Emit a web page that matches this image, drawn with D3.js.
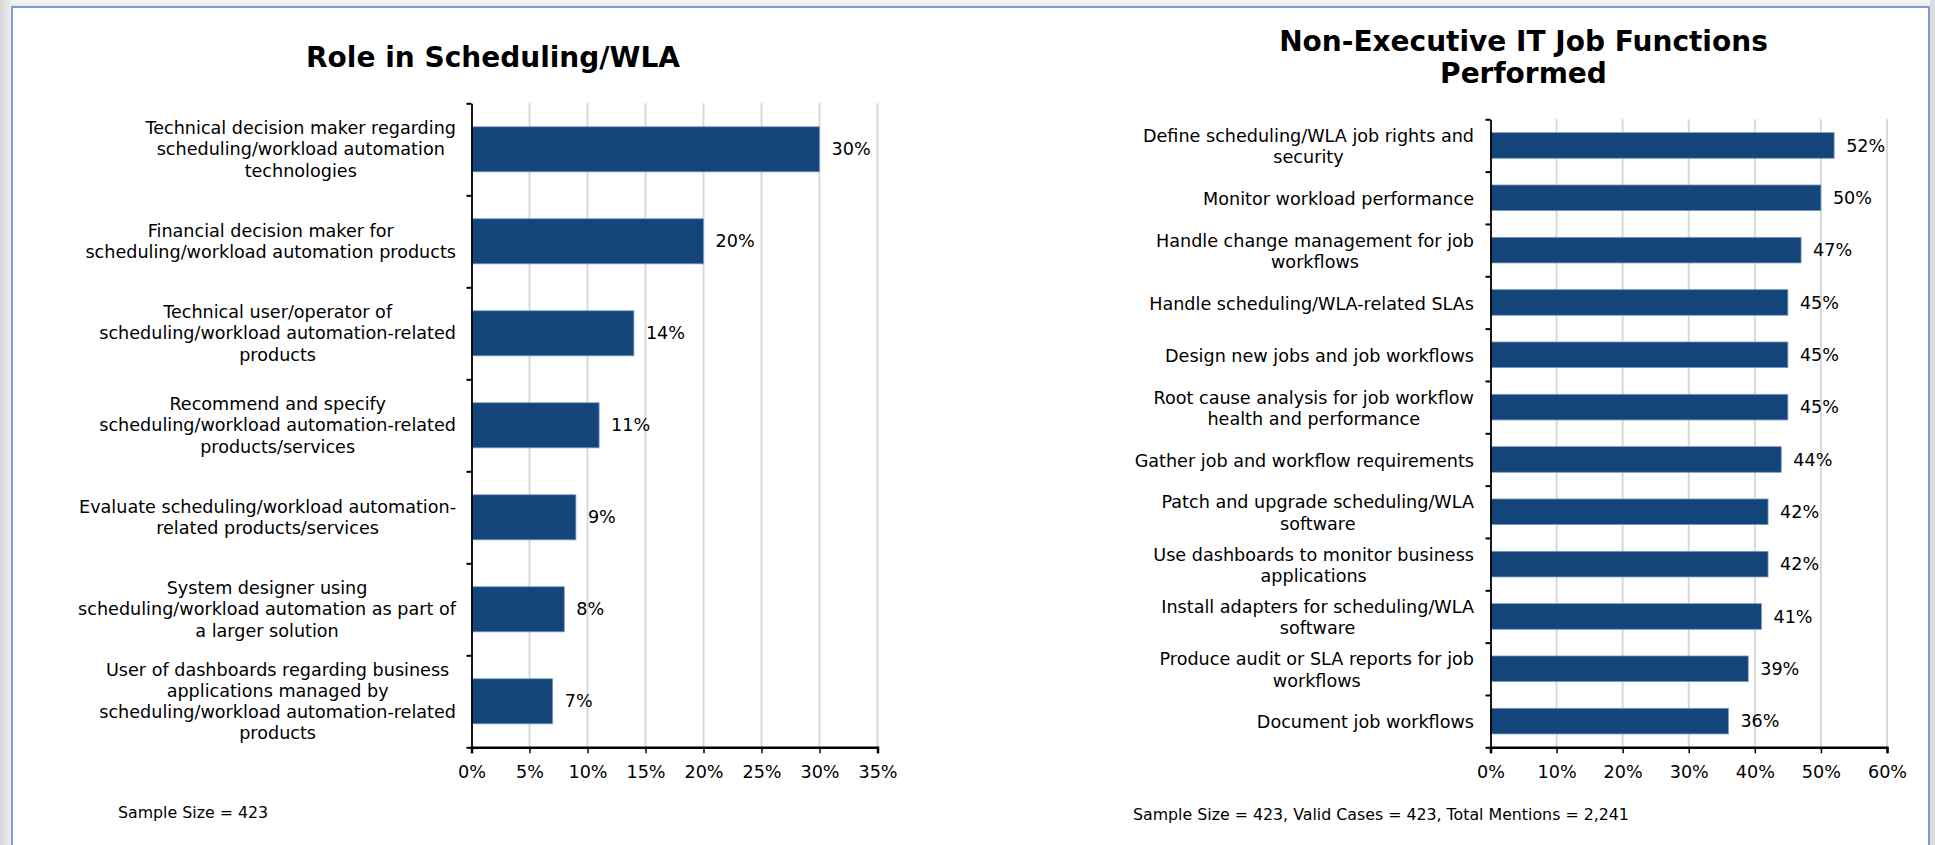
<!DOCTYPE html>
<html>
<head>
<meta charset="utf-8">
<script src="https://cdn.jsdelivr.net/npm/d3@7"></script>
<style>
  body { margin: 0; background: #ffffff; }
  text { font-family: "DejaVu Sans", Verdana, sans-serif; fill: #000; }
</style>
</head>
<body>
<div id="page"></div>
<script>
// ---- data ----
var roleLabels = [
  "Technical decision maker regarding\nscheduling/workload automation\ntechnologies",
  "Financial decision maker for\nscheduling/workload automation products",
  "Technical user/operator of\nscheduling/workload automation-related\nproducts",
  "Recommend and specify\nscheduling/workload automation-related\nproducts/services",
  "Evaluate scheduling/workload automation-\nrelated products/services",
  "System designer using\nscheduling/workload automation as part of\na larger solution",
  "User of dashboards regarding business\napplications managed by\nscheduling/workload automation-related\nproducts"
];
var roleValues = [30, 20, 14, 11, 9, 8, 7];
var roleTicks = [0, 5, 10, 15, 20, 25, 30, 35];

var jobLabels = [
  "Define scheduling/WLA job rights and\nsecurity",
  "Monitor workload performance",
  "Handle change management for job\nworkflows",
  "Handle scheduling/WLA-related SLAs",
  "Design new jobs and job workflows",
  "Root cause analysis for job workflow\nhealth and performance",
  "Gather job and workflow requirements",
  "Patch and upgrade scheduling/WLA\nsoftware",
  "Use dashboards to monitor business\napplications",
  "Install adapters for scheduling/WLA\nsoftware",
  "Produce audit or SLA reports for job\nworkflows",
  "Document job workflows"
];
var jobValues = [52, 50, 47, 45, 45, 45, 44, 42, 42, 41, 39, 36];
var jobTicks = [0, 10, 20, 30, 40, 50, 60];

var barColor = "#13457a";
var textSize = 17.6;

var svgWidth = 1935, svgHeight = 845;

var svg = d3.select("#page")
  .append("svg")
  .attr("width", svgWidth)
  .attr("height", svgHeight);

// window chrome: grey shadow round a blue-edged white sheet
var defs = svg.append("defs");
var gl = defs.append("linearGradient").attr("id", "shadeLeft");
gl.append("stop").attr("offset", "0").attr("stop-color", "#d4d4d4");
gl.append("stop").attr("offset", "1").attr("stop-color", "#efefef");
var gt = defs.append("linearGradient").attr("id", "shadeTop")
  .attr("x1", 0).attr("y1", 0).attr("x2", 0).attr("y2", 1);
gt.append("stop").attr("offset", "0").attr("stop-color", "#f6f6f6");
gt.append("stop").attr("offset", "1").attr("stop-color", "#e6e6e6");

svg.append("rect").attr("x", 0).attr("y", 0).attr("width", svgWidth).attr("height", 7)
  .attr("fill", "url(#shadeTop)");
svg.append("rect").attr("x", 0).attr("y", 0).attr("width", 11).attr("height", svgHeight)
  .attr("fill", "url(#shadeLeft)");
svg.append("rect").attr("x", 1930).attr("y", 0).attr("width", 5).attr("height", svgHeight)
  .attr("fill", "#dcdcdc");
svg.append("path")
  .attr("d", "M12,845 V7 H1929 V845")
  .attr("fill", "#ffffff")
  .attr("stroke", "#7f98d6")
  .attr("stroke-width", 2);

// draws one horizontal bar chart
function drawChart(opt) {
  var g = svg.append("g");

  var x = d3.scaleLinear()
    .domain([0, d3.max(opt.ticks)])
    .range([opt.left, opt.right]);

  var y = d3.scaleBand()
    .domain(d3.range(opt.labels.length))
    .range([opt.top, opt.bottom])
    .paddingInner(0.51)
    .paddingOuter(0.255);

  // gridlines
  g.append("g")
    .selectAll("line")
    .data(opt.ticks.slice(1))
    .enter()
    .append("line")
    .attr("x1", d => x(d)).attr("x2", d => x(d))
    .attr("y1", opt.top).attr("y2", opt.bottom)
    .attr("stroke", "#d9d9d9")
    .attr("stroke-width", 2);

  // bars
  g.append("g")
    .selectAll("rect")
    .data(opt.values)
    .enter()
    .append("rect")
    .attr("x", x(0))
    .attr("y", (d, i) => y(i))
    .attr("width", d => x(d) - x(0))
    .attr("height", y.bandwidth())
    .attr("fill", barColor)
    .attr("stroke", "#7d9cc4")
    .attr("stroke-width", 0.8);

  // value labels
  g.append("g")
    .selectAll("text")
    .data(opt.values)
    .enter()
    .append("text")
    .attr("x", d => x(d) + 12)
    .attr("y", (d, i) => y(i) + y.bandwidth() / 2)
    .attr("dy", "0.35em")
    .style("font-size", textSize + "px")
    .text(d => d + "%");

  // bottom axis
  var bottomAxis = d3.axisBottom(x)
    .tickValues(opt.ticks)
    .tickSize(6)
    .tickPadding(12)
    .tickFormat(d => d + "%");
  var xAxis = g.append("g")
    .attr("transform", `translate(0, ${opt.bottom})`)
    .call(bottomAxis);
  xAxis.select(".domain").attr("stroke", "#000").attr("stroke-width", 2.5);
  xAxis.selectAll(".tick line").attr("stroke", "#000").attr("stroke-width", 1.5);
  xAxis.selectAll("text")
    .style("font-size", textSize + "px")
    .style("font-family", "DejaVu Sans, Verdana, sans-serif");

  // left axis, with marks between the categories
  var n = opt.labels.length;
  var yEdge = d3.scaleLinear().domain([0, n]).range([opt.top, opt.bottom]);
  var leftAxis = d3.axisLeft(yEdge)
    .tickValues(d3.range(n + 1))
    .tickSize(5)
    .tickSizeOuter(0)
    .tickFormat("");
  var yAxis = g.append("g")
    .attr("transform", `translate(${opt.left}, 0)`)
    .call(leftAxis);
  yAxis.select(".domain").attr("stroke", "#000").attr("stroke-width", 1.8);
  yAxis.selectAll(".tick line").attr("stroke", "#000").attr("stroke-width", 2);

  // category labels: each block centred, block right edge set against the axis
  var labelGroup = g.append("g");
  opt.labels.forEach(function(label, i) {
    var lines = label.split("\n");
    var t = labelGroup.append("text")
      .attr("text-anchor", "middle")
      .style("font-size", textSize + "px");
    var lineH = 21.3;
    var cy = y(i) + y.bandwidth() / 2 + opt.labelShift;
    lines.forEach(function(line, k) {
      t.append("tspan")
        .attr("y", cy + (k - (lines.length - 1) / 2) * lineH)
        .attr("dy", "0.35em")
        .text(line);
    });
    var w = 0;
    t.selectAll("tspan").each(function() {
      w = Math.max(w, this.getComputedTextLength());
    });
    t.selectAll("tspan").attr("x", opt.labelRight - w / 2);
  });

  // title
  var title = g.append("text")
    .attr("text-anchor", "middle")
    .style("font-size", "28px")
    .style("font-weight", "bold");
  opt.title.forEach(function(line, k) {
    title.append("tspan")
      .attr("x", opt.titleX)
      .attr("y", opt.titleY + k * 32)
      .attr("dy", "0.35em")
      .text(line);
  });

  // footnote
  g.append("text")
    .attr("x", opt.noteX)
    .attr("y", opt.noteY)
    .attr("dy", "0.35em")
    .style("font-size", "15.8px")
    .text(opt.note);
}

drawChart({
  labels: roleLabels,
  values: roleValues,
  ticks: roleTicks,
  left: 471.5, right: 877.5,
  top: 103.3, bottom: 747.3,
  labelRight: 456,
  labelShift: 0,
  title: ["Role in Scheduling/WLA"],
  titleX: 493, titleY: 57,
  note: "Sample Size = 423",
  noteX: 118, noteY: 812
});

drawChart({
  labels: jobLabels,
  values: jobValues,
  ticks: jobTicks,
  left: 1490.5, right: 1887,
  top: 119.3, bottom: 747.3,
  labelRight: 1474,
  labelShift: 1,
  title: ["Non-Executive IT Job Functions", "Performed"],
  titleX: 1523.5, titleY: 41.5,
  note: "Sample Size = 423, Valid Cases = 423, Total Mentions = 2,241",
  noteX: 1133, noteY: 814
});
</script>
</body>
</html>
